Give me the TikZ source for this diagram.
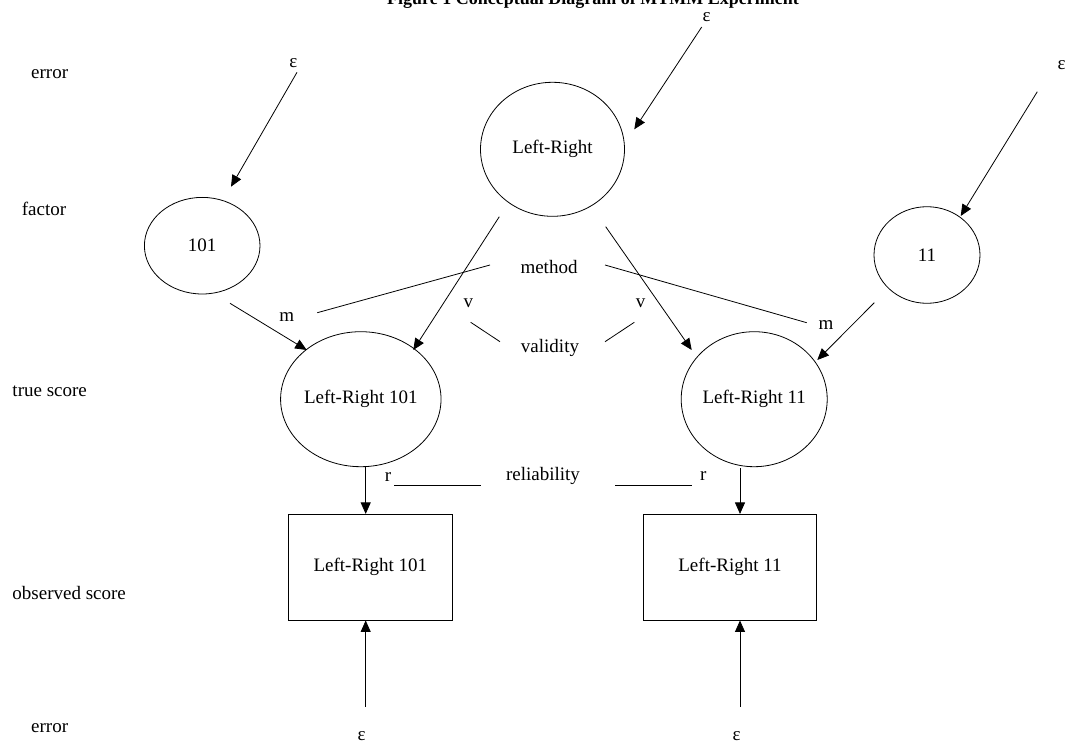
\documentclass[tikz,border=0pt]{standalone}
\usepackage{fontspec}
\setmainfont{Liberation Serif}
\usetikzlibrary{shapes.geometric,arrows.meta}
\begin{document}
\begin{tikzpicture}[x=1pt,y=-1pt,
  font=\fontsize{19}{22}\selectfont,
  every node/.style={inner sep=0pt},
  lat/.style={draw,ellipse,line width=0.8pt},
  obs/.style={draw,rectangle,line width=0.8pt},
  lbl/.style={anchor=center},
  side/.style={anchor=west},
  arr/.style={line width=0.8pt,-{Triangle[length=11.5pt,width=10pt]}},
  ln/.style={line width=0.8pt}]
\useasboundingbox (0,0) rectangle (1074,749);
\fill[white] (0,0) rectangle (1074,749);
% title (cut off at the top edge, as in the reference)
\node[anchor=base west,font=\fontsize{18}{21}\selectfont\bfseries] (title) at (387,5) {Figure 1 Conceptual Diagram of MTMM Experiment};
% side labels
\node[side] (s1) at (31,74.3) {error};
\node[side] (s2) at (21.7,209) {factor};
\node[side] (s3) at (12.3,391.7) {true score};
\node[side] (s4) at (12.3,593) {observed score};
\node[side] (s5) at (31,727.7) {error};
% nodes
\node[lat,minimum width=144pt,minimum height=134pt] (lr) at (552.5,149.3) {Left-Right};
\node[lat,minimum width=115.6pt,minimum height=96.6pt] (f101) at (202.2,245.7) {101};
\node[lat,minimum width=106pt,minimum height=96.6pt] (f11) at (927,255) {11};
\node[lat,minimum width=145pt,minimum height=135pt] (t101) at (360.8,399.2) {Left-Right 101};
\node[lat,minimum width=145pt,minimum height=135pt] (t11) at (754.2,399.2) {Left-Right 11};
\node[obs,minimum width=164pt,minimum height=105.7pt] (o101) at (370.3,567.2) {Left-Right 101};
\node[obs,minimum width=173.4pt,minimum height=105.7pt] (o11) at (730,567.2) {Left-Right 11};
% epsilons
\node[lbl] (eLR) at (706.7,17) {ε};
\node[lbl] (e101) at (293.3,63.3) {ε};
\node[lbl] (e11) at (1061.7,65) {ε};
\node[lbl] (eB1) at (361.7,735.7) {ε};
\node[lbl] (eB2) at (736.5,735.7) {ε};
% edge labels
\node[lbl] (m1) at (286.7,316.7) {m};
\node[lbl] (m2) at (826,325) {m};
\node[lbl] (meth) at (549,267) {method};
\node[lbl] (val) at (550,348.3) {validity};
\node[lbl] (v1) at (468.3,303.3) {v};
\node[lbl] (v2) at (640.7,303.3) {v};
\node[lbl] (rel) at (543,476) {reliability};
\node[lbl] (r1) at (388,476.7) {r};
\node[lbl] (r2) at (703.3,476) {r};
% connector end points
\coordinate (a1s) at (297,72.3);    \coordinate (a1e) at (231,186.7);
\coordinate (a2s) at (701.7,27);    \coordinate (a2e) at (634.3,129.3);
\coordinate (a3s) at (1037.3,91.7); \coordinate (a3e) at (960.7,216);
\coordinate (a4s) at (230,303.3);   \coordinate (a4e) at (306.7,350);
\coordinate (a5s) at (874.3,302.7); \coordinate (a5e) at (817.3,360);
\coordinate (a6s) at (499.3,216.7); \coordinate (a6e) at (413.3,350);
\coordinate (a7s) at (605.7,226.7); \coordinate (a7e) at (691.7,350);
\coordinate (a10s) at (365.7,706.7);
\coordinate (a11s) at (740,706.7);
% arrows
\draw[arr] (a1s) -- (a1e);
\draw[arr] (a2s) -- (a2e);
\draw[arr] (a3s) -- (a3e);
\draw[arr] (a4s) -- (a4e);
\draw[arr] (a5s) -- (a5e);
\draw[arr] (a6s) -- (a6e);
\draw[arr] (a7s) -- (a7e);
\draw[arr] ([xshift=4.9pt]t101.south) -- ([xshift=-4.6pt]o101.north);
\draw[arr] ([xshift=-14.2pt,yshift=-1.3pt]t11.south) -- ([xshift=10pt]o11.north);
\draw[arr] (a10s) -- ([xshift=-4.6pt]o101.south);
\draw[arr] (a11s) -- ([xshift=10pt]o11.south);
% plain lines
\draw[ln] (317.3,312.7) -- (490,265);
\draw[ln] (605,265) -- (806.7,322.7);
\draw[ln] (470.7,322.3) -- (500,341.7);
\draw[ln] (605,341.7) -- (634.3,322.3);
\draw[ln] (394.3,485) -- (480.7,485);
\draw[ln] (615,485) -- (691.7,485);
\end{tikzpicture}
\end{document}
